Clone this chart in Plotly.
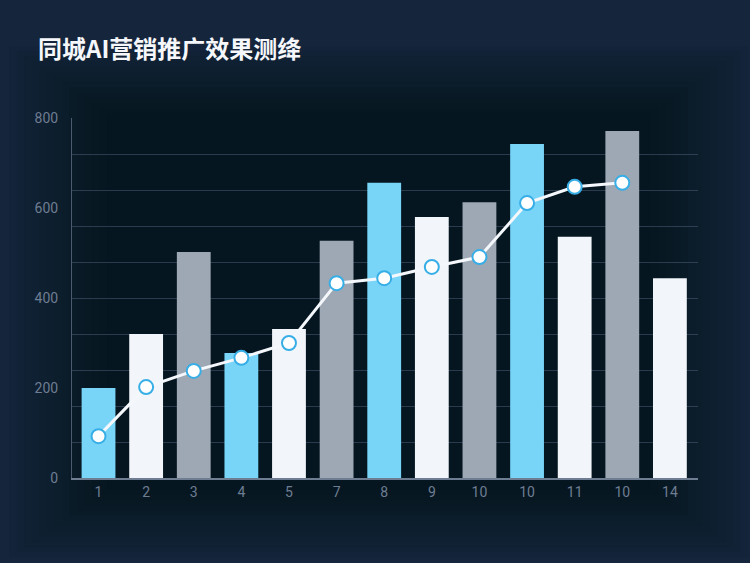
import plotly.graph_objects as go

# data
tick_labels = ["1", "2", "3", "4", "5", "7", "8", "9", "10", "10", "11", "10", "14"]
bar_values = [200, 320, 502, 278, 331, 527, 656, 580, 613, 742, 536, 771, 444]
bar_kinds = ["blue", "white", "gray", "blue", "white", "gray", "blue",
             "white", "gray", "blue", "white", "gray", "white"]
line_values = [93, 202, 238, 267, 300, 433, 444, 469, 491, 611, 647, 656]

palette = {"blue": "#78d5f8", "white": "#f2f6fa", "gray": "#9ea8b4"}
positions = list(range(len(tick_labels)))

fig = go.Figure()
fig.add_trace(go.Bar(
    x=positions, y=bar_values, width=0.71,
    marker=dict(color=[palette[k] for k in bar_kinds], line=dict(width=0)),
    hoverinfo="y", showlegend=False,
))
fig.add_trace(go.Scatter(
    x=positions[:len(line_values)], y=line_values, mode="lines+markers",
    line=dict(color="#f4f7fb", width=3),
    marker=dict(size=14, color="#ffffff", line=dict(color="#38aee6", width=2)),
    showlegend=False,
))

# soft darker centre over the lighter edges (rough vignette, many thin layers)
for i in range(14):
    inset = 0.012 * i
    fig.add_shape(type="rect", xref="paper", yref="paper", layer="below",
                  x0=-0.1 + inset, x1=1.08 - inset, y0=-0.22 + inset * 1.2,
                  y1=1.2 - inset * 1.2,
                  fillcolor="rgba(4,10,22,0.055)", line=dict(width=0))

fig.update_layout(
    width=750, height=563,
    paper_bgcolor="#15253c", plot_bgcolor="rgba(0,0,0,0)",
    margin=dict(l=72, r=52, t=118, b=85),
    font=dict(family="Roboto, Noto Sans, sans-serif", color="#6f7d92", size=14),
    title=dict(text="<b>同城AI营销推广效果测绛</b>", x=38 / 750, xanchor="left",
               y=1 - 50 / 563, yanchor="middle", yref="container",
               font=dict(family="Noto Sans CJK SC, sans-serif", size=24, color="#f5f7fa")),
    bargap=0.29,
)
fig.update_xaxes(
    range=[-0.557, 12.59], tickmode="array", tickvals=positions, ticktext=tick_labels,
    showgrid=False, showline=True, linecolor="#6f7d92", linewidth=1.5,
    ticks="", ticklen=0, zeroline=False,
    tickfont=dict(size=14, color="#6f7d92"),
)
fig.update_yaxes(
    range=[0, 800], tickmode="array", tickvals=[0, 200, 400, 600, 800],
    showgrid=False, showline=True, linecolor="#4c5b72", linewidth=1,
    zeroline=False, ticks="", ticklabelstandoff=10,
    minor=dict(tickmode="linear", tick0=0, dtick=80, showgrid=True,
               gridcolor="rgba(125,145,175,0.3)", gridwidth=1),
    tickfont=dict(size=14, color="#6f7d92"),
)

fig.write_html("out.html", config={"displayModeBar": False},
               post_script="document.body.style.margin='0';")
